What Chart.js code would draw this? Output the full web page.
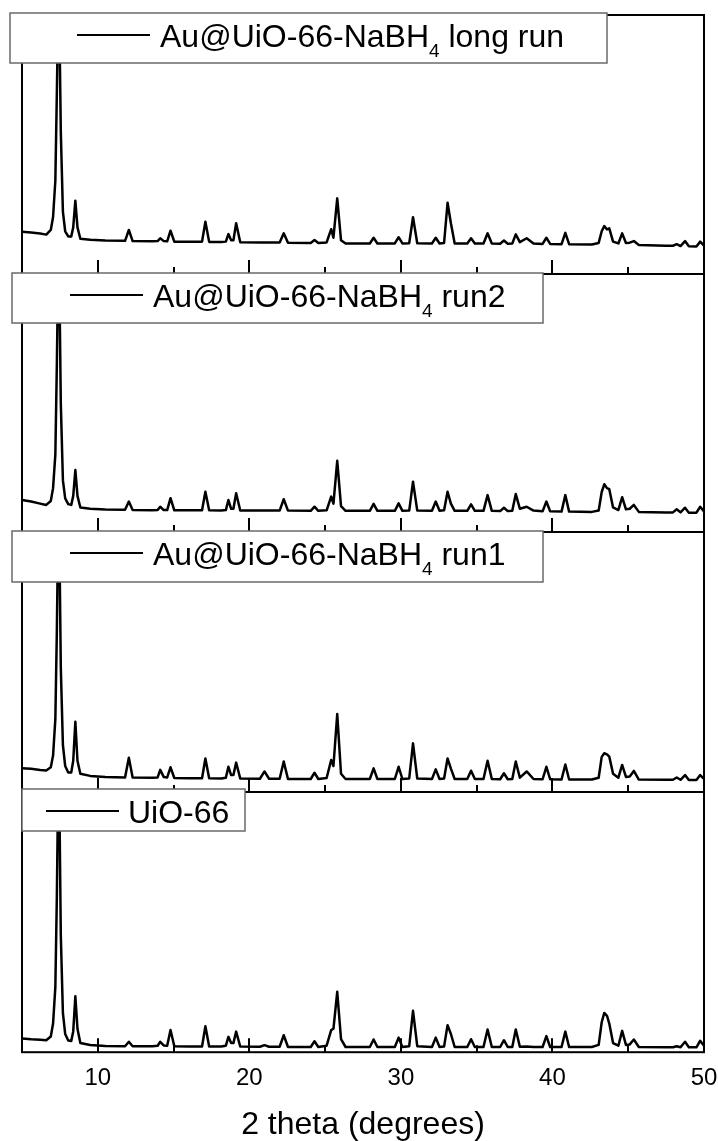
<!DOCTYPE html>
<html>
<head>
<meta charset="utf-8">
<script src="https://cdn.jsdelivr.net/npm/chart.js@4.4.1/dist/chart.umd.min.js"></script>
<style>
  body { margin: 0; background: #fff; }
  #wrap { position: relative; width: 718px; height: 1141px; }
  #wrap canvas { position: absolute; left: 0; }
</style>
</head>
<body>
<div id="wrap"></div>
<script>
// XRD patterns. Intensity is in % of each panel height.
const twoTheta = [
  5.0, 5.6, 6.2, 6.6, 6.9, 7.05, 7.2, 7.3, 7.38, 7.46,
  7.56, 7.7, 7.85, 8.05, 8.25, 8.38, 8.52, 8.66, 8.85, 9.5,
  10.5, 11.8, 12.05, 12.3, 13.6, 13.95, 14.12, 14.35, 14.58, 14.8,
  15.05, 16.0, 16.88, 17.1, 17.35, 18.15, 18.45, 18.62, 18.8, 18.95,
  19.13, 19.4, 20.7, 21.0, 21.3, 22.0, 22.27, 22.55, 24.05, 24.3,
  24.55, 25.1, 25.4, 25.55, 25.8, 26.05, 26.35, 27.95, 28.2, 28.45,
  29.6, 29.85, 30.1, 30.55, 30.8, 31.08, 32.05, 32.3, 32.55, 32.85,
  33.08, 33.3, 33.55, 34.38, 34.63, 34.88, 35.45, 35.72, 36.0, 36.55,
  36.8, 37.05, 37.35, 37.58, 37.85, 38.3, 38.75, 39.35, 39.6, 39.85,
  40.6, 40.85, 41.1, 42.6, 43.05, 43.25, 43.42, 43.6, 43.75, 44.0,
  44.35, 44.6, 44.85, 45.1, 45.37, 45.7, 47.5, 47.95, 48.2, 48.45,
  48.75, 49.0, 49.5, 49.75, 50.0
];

const longRun = [
  16.3, 16.0, 15.6, 15.2, 17.0, 22, 36, 70, 100, 100,
  55, 24, 16.5, 14.5, 14.5, 18, 28.3, 18, 13.6, 13.2,
  12.9, 12.8, 17.0, 12.7, 12.6, 12.7, 13.8, 12.7, 12.6, 16.7,
  12.5, 12.5, 12.5, 20.2, 12.4, 12.4, 12.5, 15.4, 13.0, 13.0,
  19.6, 12.3, 12.2, 12.2, 12.2, 12.2, 15.7, 12.1, 12.0, 13.1,
  12.0, 12.2, 17.3, 14.0, 29.2, 13.0, 11.8, 11.8, 14.0, 11.8,
  11.8, 14.2, 11.8, 11.9, 21.9, 11.9, 11.8, 14.0, 11.8, 12.0,
  27.5, 19.6, 11.8, 11.8, 13.8, 11.8, 11.8, 15.7, 11.8, 11.7,
  12.9, 11.7, 11.8, 15.3, 12.3, 13.8, 11.8, 11.6, 14.0, 11.6,
  11.5, 15.9, 11.5, 11.4, 12.0, 16.5, 18.5, 17.2, 17.6, 12.5,
  11.8, 15.7, 12.0, 12.1, 12.7, 11.2, 10.9, 10.9, 11.5, 10.8,
  12.7, 10.7, 10.6, 12.5, 11.0
];

const run2 = [
  12.4, 11.8, 11.0, 10.5, 12.0, 17, 30, 65, 100, 100,
  50, 20, 13, 10.8, 10.5, 14, 24.0, 14, 9.5, 9.0,
  8.7, 8.6, 11.8, 8.5, 8.4, 8.5, 9.8, 8.5, 8.5, 13.1,
  8.4, 8.4, 8.4, 15.6, 8.4, 8.3, 8.5, 12.4, 9.0, 9.0,
  15.0, 8.3, 8.3, 8.3, 8.3, 8.3, 12.7, 8.3, 8.2, 9.8,
  8.2, 8.4, 13.7, 11.0, 27.6, 10.0, 8.2, 8.2, 10.9, 8.2,
  8.2, 11.1, 8.2, 8.3, 19.5, 8.3, 8.2, 11.8, 8.2, 8.4,
  15.6, 11.0, 8.2, 8.2, 10.7, 8.2, 8.2, 14.3, 8.2, 8.1,
  9.4, 8.1, 8.2, 14.7, 9.0, 9.8, 8.3, 8.0, 11.8, 8.0,
  7.9, 14.3, 7.9, 7.8, 8.3, 15.5, 18.5, 17.0, 16.6, 9.5,
  8.5, 13.5, 8.8, 9.0, 10.5, 7.8, 7.6, 7.6, 8.8, 7.6,
  9.4, 7.5, 7.5, 9.8, 8.0
];

const run1 = [
  9.1, 8.9, 8.5, 8.3, 9.5, 14, 28, 62, 100, 100,
  48, 18, 10, 7.5, 7.5, 12, 27.0, 12, 7.0, 6.2,
  5.8, 5.6, 13.2, 5.6, 5.5, 5.6, 8.5, 5.8, 5.6, 9.5,
  5.4, 5.3, 5.3, 12.9, 5.3, 5.2, 5.5, 9.7, 6.5, 6.5,
  11.3, 5.2, 5.1, 7.9, 5.1, 5.1, 11.7, 5.0, 5.0, 7.4,
  5.0, 5.4, 12.3, 10.0, 30.0, 7.0, 5.0, 5.0, 9.1, 5.0,
  5.0, 9.7, 5.0, 5.2, 18.7, 5.2, 5.0, 8.7, 5.0, 5.2,
  12.9, 9.0, 5.0, 5.0, 8.2, 5.0, 5.0, 12.0, 5.0, 4.9,
  7.2, 4.9, 5.0, 11.7, 5.5, 7.9, 5.0, 4.9, 9.7, 4.9,
  4.8, 10.6, 4.8, 4.8, 5.5, 13.5, 14.9, 14.5, 13.6, 7.0,
  5.5, 10.4, 5.8, 6.0, 8.1, 4.8, 4.7, 4.7, 5.6, 4.7,
  6.5, 4.6, 4.6, 6.5, 5.0
];

const uio66 = [
  5.3, 5.0, 4.8, 4.6, 6.0, 11, 25, 60, 100, 100,
  45, 15, 7, 4.5, 4.3, 8, 21.5, 9, 3.5, 2.8,
  2.4, 2.3, 4.0, 2.3, 2.3, 2.5, 4.0, 2.6, 2.5, 8.5,
  2.3, 2.2, 2.2, 10.0, 2.2, 2.2, 2.5, 5.9, 3.5, 3.5,
  7.9, 2.2, 2.1, 2.7, 2.1, 2.1, 6.5, 2.0, 2.0, 4.2,
  2.0, 2.5, 8.5, 9.0, 23.2, 5.0, 2.0, 2.0, 4.9, 2.0,
  2.0, 5.6, 2.0, 2.3, 15.9, 2.3, 2.0, 5.6, 2.0, 2.2,
  10.4, 7.0, 2.0, 2.0, 5.0, 2.0, 2.0, 8.7, 2.0, 2.0,
  4.6, 2.0, 2.0, 8.7, 2.1, 2.2, 2.0, 2.0, 6.2, 2.0,
  2.0, 7.9, 2.0, 2.0, 2.8, 11.5, 15.1, 14.0, 11.0, 3.5,
  2.5, 8.2, 2.8, 3.0, 4.9, 2.0, 1.9, 1.9, 2.3, 1.9,
  4.0, 1.9, 1.9, 4.4, 2.5
];

const sampleNames = ['Au@UiO-66-NaBH₄ long run', 'Au@UiO-66-NaBH₄ run2', 'Au@UiO-66-NaBH₄ run1', 'UiO-66'];
const xTickLabels = [10, 20, 30, 40, 50];
const xTickMarks = [10, 15, 20, 25, 30, 35, 40, 45];

const series = [longRun, run2, run1, uio66];

// page layout (pixels)
const panelEdges = [15, 274, 532, 792, 1052];
const legendBoxes = [
  { left: 10, right: 607, top: 13, bottom: 63, line: 77, text: 160 },
  { left: 12, right: 543, top: 273, bottom: 323, line: 70, text: 153 },
  { left: 12, right: 543, top: 531, bottom: 582, line: 70, text: 153 },
  { left: 22, right: 245, top: 789, bottom: 831, line: 46, text: 128 }
];
const family = '"Liberation Sans", Arial, sans-serif';

const panelFrame = {
  id: 'panelFrame',
  afterDraw(chart) {
    const ctx = chart.ctx;
    const a = chart.chartArea;
    const x = chart.scales.x;
    const lg = chart.options.plugins.panelFrame;
    ctx.save();
    ctx.strokeStyle = '#000';
    ctx.lineWidth = 2;
    ctx.strokeRect(a.left, a.top, a.right - a.left, a.bottom - a.top);
    // inward ticks on the bottom edge
    ctx.beginPath();
    xTickMarks.forEach(v => {
      const px = Math.round(x.getPixelForValue(v));
      const len = xTickLabels.includes(v) ? 14 : 7;
      ctx.moveTo(px, a.bottom);
      ctx.lineTo(px, a.bottom - len);
    });
    ctx.stroke();

    // legend box
    const b = lg.box;
    const top = b.top - lg.offset;
    const h = b.bottom - b.top;
    ctx.fillStyle = '#fff';
    ctx.fillRect(b.left, top, b.right - b.left, h);
    ctx.strokeStyle = '#6a6a6a';
    ctx.lineWidth = 1.5;
    ctx.strokeRect(b.left, top, b.right - b.left, h);

    const base = top + 34;
    ctx.strokeStyle = '#000';
    ctx.lineWidth = 2;
    ctx.beginPath();
    ctx.moveTo(b.line, base - 12);
    ctx.lineTo(b.line + 73, base - 12);
    ctx.stroke();

    ctx.fillStyle = '#000';
    ctx.textBaseline = 'alphabetic';
    ctx.textAlign = 'left';
    const parts = lg.name.split('₄');
    let tx = b.text;
    ctx.font = '32px ' + family;
    ctx.fillText(parts[0], tx, base);
    tx += ctx.measureText(parts[0]).width;
    if (parts.length > 1) {
      ctx.font = '19px ' + family;
      ctx.fillText('4', tx, base + 10);
      tx += ctx.measureText('4').width;
      ctx.font = '32px ' + family;
      ctx.fillText(parts[1], tx, base);
    }
    ctx.restore();
  }
};

const wrap = document.getElementById('wrap');

series.forEach((vals, i) => {
  const isBottom = i === series.length - 1;
  const canvasTop = panelEdges[i] - 16;
  const canvasBottom = isBottom ? 1141 : panelEdges[i + 1] + 6;
  const canvas = document.createElement('canvas');
  canvas.width = 718;
  canvas.height = canvasBottom - canvasTop;
  canvas.style.top = canvasTop + 'px';
  wrap.appendChild(canvas);

  const points = twoTheta.map((t, k) => ({ x: t, y: vals[k] }));

  new Chart(canvas.getContext('2d'), {
    type: 'line',
    data: {
      datasets: [{
        label: sampleNames[i],
        data: points,
        borderColor: '#000',
        borderWidth: 2.5,
        pointRadius: 0,
        tension: 0,
        fill: false,
        borderJoinStyle: 'round'
      }]
    },
    options: {
      responsive: false,
      animation: false,
      layout: { padding: { top: 16, left: 22, right: 14, bottom: isBottom ? 0 : 6 } },
      plugins: {
        legend: { display: false },
        tooltip: { enabled: false },
        panelFrame: { box: legendBoxes[i], offset: canvasTop, name: sampleNames[i] }
      },
      scales: {
        x: {
          type: 'linear',
          min: 5,
          max: 50,
          display: isBottom,
          grid: { display: false, drawTicks: false },
          border: { display: false },
          afterBuildTicks: s => { s.ticks = xTickLabels.map(v => ({ value: v })); },
          afterFit: s => { s.paddingLeft = 0; s.paddingRight = 0; },
          ticks: { color: '#000', font: { size: 24, family: family }, padding: 12, maxRotation: 0, autoSkip: false },
          title: {
            display: true,
            text: '2 theta (degrees)',
            color: '#000',
            font: { size: 32, family: family, lineHeight: 1 },
            padding: { top: 4, bottom: 0 }
          }
        },
        y: { display: false, min: 0, max: 100 }
      }
    },
    plugins: [panelFrame]
  });
});
</script>
</body>
</html>
